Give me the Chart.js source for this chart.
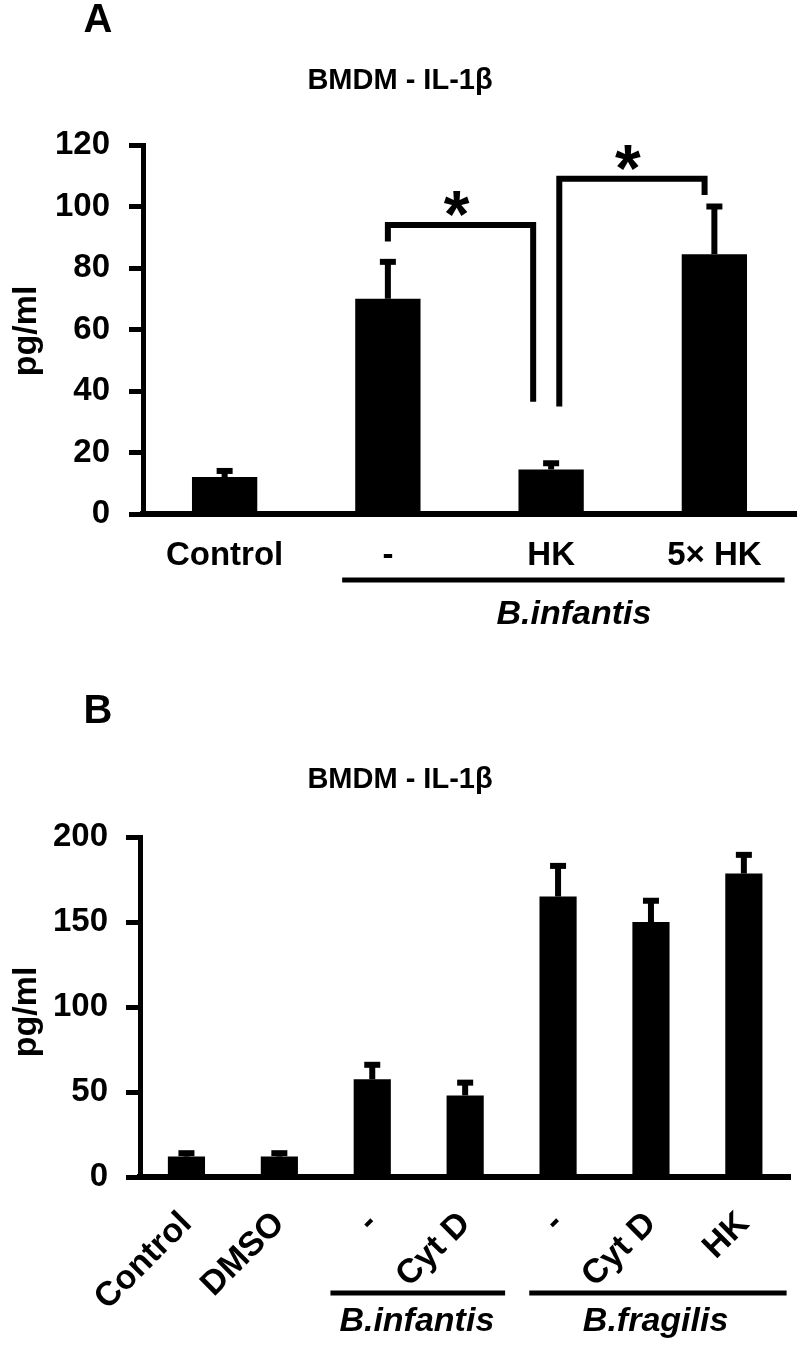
<!DOCTYPE html>
<html>
<head>
<meta charset="utf-8">
<script src="https://cdn.jsdelivr.net/npm/chart.js@4.4.1/dist/chart.umd.min.js"></script>
<style>
  html, body { margin: 0; padding: 0; background: #fff; }
  canvas { display: block; }
</style>
</head>
<body>
<canvas id="chartA" width="800" height="650"></canvas>
<canvas id="chartB" width="800" height="696"></canvas>
<script>
// ---- panel A data
const labelsA = ["Control", "-", "HK", "5× HK"]
const valuesA = [12, 70, 14.5, 84.5]
const errorsA = [2, 12, 2, 15.5]
const ticksA = [0, 20, 40, 60, 80, 100, 120]
// brackets: [from category, to category, left leg end, top, right leg end]
const bracketsA = [
  [1.0, 1.89, 88.6, 94, 36.5],
  [2.05, 2.94, 35, 109, 103.7]
]
// groups: [label, from category, to category, label position]
const groupsA = [["B.infantis", 0.72, 3.43, 2.14]]

// ---- panel B data
const labelsB = ["Control", "DMSO", "-", "Cyt D", "-", "Cyt D", "HK"]
const valuesB = [12, 12, 57.5, 48, 165, 150, 178.5]
const errorsB = [2, 2, 8.5, 7.5, 18, 12.5, 11]
const ticksB = [0, 50, 100, 150, 200]
const groupsB = [["B.infantis", 1.55, 3.43, 2.48], ["B.fragilis", 3.69, 6.46, 5.05]]

const FONT = '"Liberation Sans", Arial, Helvetica, sans-serif'
Chart.defaults.font.family = FONT
Chart.defaults.color = "#000"

function extras(cfg) {
  return {
    id: "extras",
    afterDraw(chart) {
      const ctx = chart.ctx
      const xs = chart.scales.x
      const ys = chart.scales.y
      const area = chart.chartArea
      const step = xs.getPixelForValue(1) - xs.getPixelForValue(0)
      const xAt = v => xs.getPixelForValue(0) + v * step

      ctx.save()
      ctx.fillStyle = "#000"
      ctx.strokeStyle = "#000"

      // error bars
      const meta = chart.getDatasetMeta(0)
      const ds = chart.data.datasets[0]
      ds.errors.forEach((e, i) => {
        const bar = meta.data[i]
        const top = ys.getPixelForValue(ds.data[i] + e)
        ctx.fillRect(bar.x - 3, top, 6, bar.y - top)
        ctx.fillRect(bar.x - 8, top - 3, 16, 6)
      })

      // significance brackets
      ctx.lineWidth = 6
      ctx.lineJoin = "miter"
      cfg.brackets.forEach(b => {
        const x1 = xAt(b[0]), x2 = xAt(b[1])
        const yTop = ys.getPixelForValue(b[3])
        ctx.beginPath()
        ctx.moveTo(x1, ys.getPixelForValue(b[2]))
        ctx.lineTo(x1, yTop)
        ctx.lineTo(x2, yTop)
        ctx.lineTo(x2, ys.getPixelForValue(b[4]))
        ctx.stroke()
        ctx.font = "bold 66px " + FONT
        ctx.textAlign = "center"
        ctx.textBaseline = "alphabetic"
        ctx.fillText("*", (x1 + x2) / 2 - 4, yTop + 12)
      })

      // group lines under the axis
      cfg.groups.forEach(g => {
        const x1 = xAt(g[1]), x2 = xAt(g[2])
        ctx.fillRect(x1, area.bottom + cfg.groupLine - 2.5, x2 - x1, 5)
        ctx.font = "italic bold 34px " + FONT
        ctx.textAlign = "center"
        ctx.textBaseline = "middle"
        ctx.fillText(g[0], xAt(g[3]), area.bottom + cfg.groupText)
      })

      // panel letter, title, axis title
      ctx.textAlign = "center"
      ctx.textBaseline = "middle"
      ctx.font = "bold 40px " + FONT
      ctx.fillText(cfg.letter, 98, cfg.letterY)
      ctx.font = "bold 29px " + FONT
      ctx.fillText("BMDM - IL-1β", 400, cfg.titleY)
      ctx.translate(27, cfg.yTitleY)
      ctx.rotate(-Math.PI / 2)
      ctx.font = "bold 34px " + FONT
      ctx.fillText("pg/ml", 0, 0)
      ctx.restore()
    }
  }
}

function makeChart(id, cfg) {
  return new Chart(document.getElementById(id), {
    type: "bar",
    data: {
      labels: cfg.labels,
      datasets: [{
        data: cfg.values,
        errors: cfg.errors,
        backgroundColor: "#000",
        borderWidth: 0,
        barPercentage: 0.4,
        categoryPercentage: 1
      }]
    },
    options: {
      responsive: false,
      animation: false,
      layout: { padding: { top: cfg.top, right: 4, left: 0, bottom: 0 } },
      plugins: {
        legend: { display: false },
        tooltip: { enabled: false }
      },
      scales: {
        x: {
          grid: { display: false, drawTicks: false },
          border: { display: true, width: 6, color: "#000" },
          ticks: {
            color: "#000",
            font: { size: cfg.xFont, weight: "bold" },
            padding: cfg.xPad,
            autoSkip: false,
            minRotation: cfg.rot,
            maxRotation: cfg.rot
          },
          afterFit: s => { s.height = cfg.xHeight }
        },
        y: {
          min: 0,
          max: cfg.ticks[cfg.ticks.length - 1],
          afterBuildTicks: s => { s.ticks = cfg.ticks.map(v => ({ value: v })) },
          grid: { drawOnChartArea: false, drawTicks: true, tickLength: 14, tickWidth: 5, tickColor: "#000" },
          border: { display: true, width: 5, color: "#000" },
          ticks: { color: "#000", font: { size: 33, weight: "bold" }, padding: cfg.yPad },
          afterFit: s => { s.width = cfg.yWidth }
        }
      }
    },
    plugins: [extras(cfg)]
  })
}

makeChart("chartA", {
  labels: labelsA, values: valuesA, errors: errorsA, ticks: ticksA,
  brackets: bracketsA, groups: groupsA,
  top: 145, yWidth: 143, yPad: 19, xHeight: 136, xFont: 33, xPad: 22, rot: 0,
  groupLine: 66, groupText: 101, letter: "A", letterY: 21, titleY: 81, yTitleY: 331
})

makeChart("chartB", {
  labels: labelsB, values: valuesB, errors: errorsB, ticks: ticksB,
  brackets: [], groups: groupsB,
  top: 187, yWidth: 140, yPad: 18, xHeight: 169, xFont: 34, xPad: 27, rot: 45,
  groupLine: 116, groupText: 145, letter: "B", letterY: 62, titleY: 130, yTitleY: 362
})
</script>
</body>
</html>
